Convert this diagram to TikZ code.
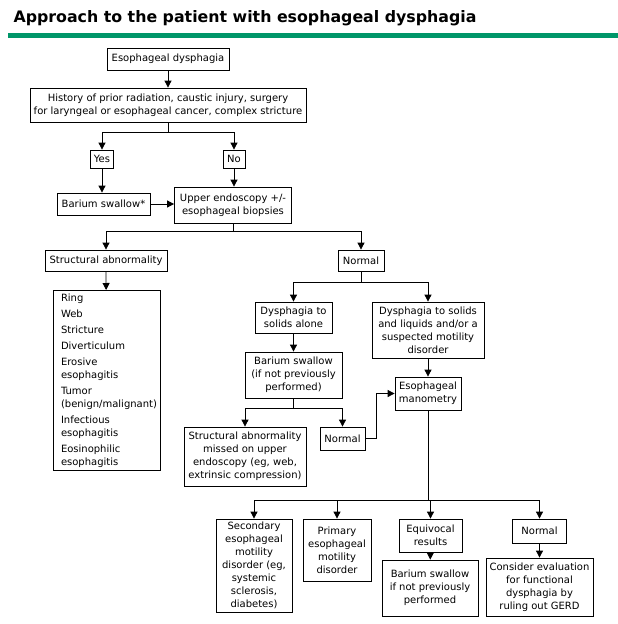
\documentclass[tikz,border=0pt]{standalone}
\usepackage{fontspec}
\setmainfont{DejaVu Sans}
\usetikzlibrary{arrows.meta}
\definecolor{rulegreen}{RGB}{0,150,105}

\begin{document}
\begin{tikzpicture}[x=1pt, y=-1pt,
  box/.style={draw, line width=0.8pt, align=center, inner sep=0pt, font=\fontsize{10}{13}\selectfont},
  arr/.style={line width=0.8pt, -{Triangle[length=7pt,width=7pt]}},
  line/.style={line width=0.8pt}]
\useasboundingbox (0,0) rectangle (618,624);
\node[anchor=base west, font=\fontsize{15.8}{18}\selectfont\bfseries] (title) at (10,22) {Approach to the patient with esophageal dysphagia};
\fill[rulegreen] (8,33) rectangle (618,38);

\node[box, minimum width=122, minimum height=22] (start) at (168,59) {Esophageal dysphagia};
\node[box, minimum width=276, minimum height=34] (hist) at (168,105) {History of prior radiation, caustic injury, surgery\\for laryngeal or esophageal cancer, complex stricture};
\node[box, minimum width=23, minimum height=18] (yes) at (102,159) {Yes};
\node[box, minimum width=22, minimum height=18] (no) at (234,159) {No};
\node[box, minimum width=93, minimum height=22] (barium) at (103.5,204) {Barium swallow*};
\node[box, minimum width=117, minimum height=36] (endo) at (233,205) {Upper endoscopy +/-\\esophageal biopsies};
\node[box, minimum width=122, minimum height=21] (struct) at (106,260.5) {Structural abnormality};
\node[box, minimum width=46, minimum height=21] (normal) at (361,260.5) {Normal};
\node[box, align=left, anchor=north, text width=91, inner xsep=8, inner ysep=3, minimum height=180] (list) at (106.5,290) {Ring\\[3pt]Web\\[3pt]Stricture\\[3pt]Diverticulum\\[3pt]Erosive\\esophagitis\\[3pt]Tumor\\(benign/malignant)\\[3pt]Infectious\\esophagitis\\[3pt]Eosinophilic\\esophagitis};
\node[box, minimum width=77, minimum height=31] (solids) at (293.5,317.5) {Dysphagia to\\solids alone};
\node[box, minimum width=112, minimum height=56] (liquids) at (428,330) {Dysphagia to solids\\and liquids and/or a\\suspected motility\\disorder};
\node[box, minimum width=97, minimum height=46] (bartwo) at (293.5,375) {Barium swallow\\(if not previously\\performed)};
\node[box, minimum width=66, minimum height=33] (mano) at (428,393.5) {Esophageal\\manometry};
\node[box, minimum width=122, minimum height=59] (missed) at (245,456.5) {Structural abnormality\\missed on upper\\endoscopy (eg, web,\\extrinsic compression)};
\node[box, minimum width=45, minimum height=23] (normtwo) at (342.5,438.5) {Normal};
\node[box, minimum width=76, minimum height=93] (second) at (254,565.5) {Secondary\\esophageal\\motility\\disorder (eg,\\systemic\\sclerosis,\\diabetes)};
\node[box, minimum width=68, minimum height=62] (primary) at (337,550) {Primary\\esophageal\\motility\\disorder};
\node[box, minimum width=63, minimum height=33] (equiv) at (430.5,535.5) {Equivocal\\results};
\node[box, minimum width=96, minimum height=56] (barthree) at (430,588) {Barium swallow\\if not previously\\performed};
\node[box, minimum width=54, minimum height=24] (normthree) at (539.5,531) {Normal};
\node[box, minimum width=107, minimum height=58] (consider) at (539.5,587) {Consider evaluation\\for functional\\dysphagia by\\ruling out GERD};

\draw[arr] (start) -- (hist);
\draw[arr] (hist.south) -- ++(0,10) -| (yes.north);
\draw[arr] (hist.south) -- ++(0,10) -| (no.north);
\draw[arr] (yes.south) -- (yes.south |- barium.north);
\draw[arr] (no) -- (no.south |- endo.north);
\draw[arr] (barium.east) -- (barium.east -| endo.west);
\draw[arr] (endo.south) -- ++(0,8) -| (struct.north);
\draw[arr] (endo.south) -- ++(0,8) -| (normal.north);
\draw[arr] (struct) -- (list);
\draw[arr] (normal.south) -- ++(0,11) -| (solids.north);
\draw[arr] (normal.south) -- ++(0,11) -| (liquids.north);
\draw[arr] (solids) -- (bartwo);
\draw[arr] (liquids) -- (mano);
\draw[arr] (bartwo.south) -- ++(0,10) -| (missed.north);
\draw[arr] (bartwo.south) -- ++(0,10) -| (normtwo.north);
\draw[arr] (normtwo.east) -- ++(11,0) |- (mano.west);
\draw[arr] (mano.south) -- ++(0,90) -| (second.north);
\draw[arr] (mano.south) -- ++(0,90) -| (primary.north);
\draw[arr] (mano.south) -- ++(0,90) -| (equiv.north);
\draw[arr] (mano.south) -- ++(0,90) -| (normthree.north);
\draw[arr] (equiv) -- (barthree);
\draw[arr] (normthree) -- (consider);
\end{tikzpicture}
\end{document}
